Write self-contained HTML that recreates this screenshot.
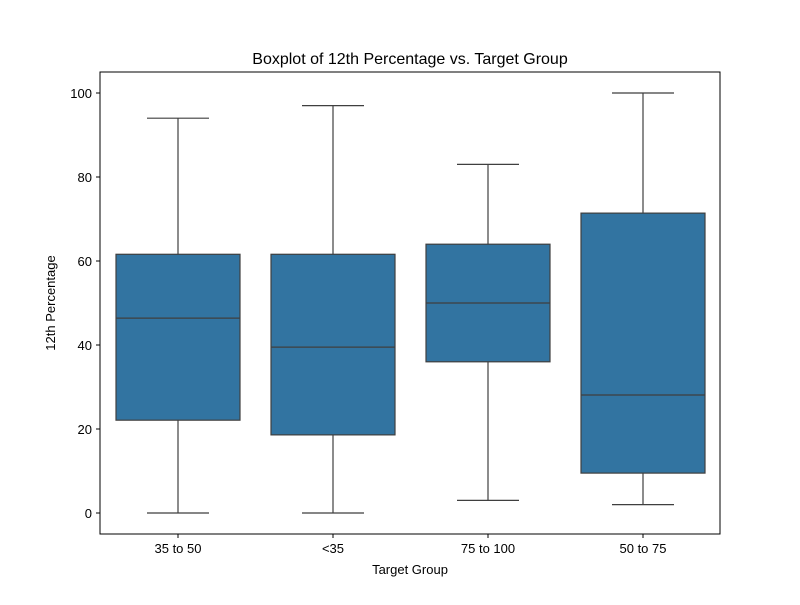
<!DOCTYPE html>
<html><head><meta charset="utf-8"><style>body{margin:0;background:#fff}svg{font-family:"Liberation Sans","DejaVu Sans",sans-serif}</style></head>
<body>
<svg id="chart" width="800" height="600">
<rect x="0" y="0" width="800" height="600" fill="#fff"/>
<text x="410" y="64" text-anchor="middle" font-size="16">Boxplot of 12th Percentage vs. Target Group</text>
<g id="yticks"></g><g id="xticks"></g><g id="boxes"></g>
<rect x="100" y="72" width="620" height="462" fill="none" stroke="#000" stroke-width="1"/>
<text x="410" y="574" text-anchor="middle" font-size="13">Target Group</text>
<text transform="translate(55,303) rotate(-90)" text-anchor="middle" font-size="13">12th Percentage</text>
</svg>
<script>
const categories=["35 to 50","<35","75 to 100","50 to 75"];
const mins=[0,0,3,2];
const q1s=[22.1,18.6,36,9.5];
const medians=[46.4,39.5,50,28.1];
const q3s=[61.6,61.6,64,71.4];
const maxs=[94,97,83,100];
const yTicks=[0,20,40,60,80,100];
const ns="http://www.w3.org/2000/svg";
const y=v=>513-v*4.2;
const x=i=>178+i*155;
const bw=124;
function mk(t,a,p){const e=document.createElementNS(ns,t);for(const k in a)e.setAttribute(k,a[k]);p.appendChild(e);return e;}
const yt=document.getElementById('yticks');
yTicks.forEach(v=>{
 const l=mk('line',{x1:96,x2:100,y1:y(v),y2:y(v),stroke:'#000'},yt);
 
 
 const t=mk('text',{x:92,y:y(v)+5,'text-anchor':'end','font-size':13},yt);t.textContent=v;
 
 
});
const xt=document.getElementById('xticks');
categories.forEach((c,i)=>{
 const l=mk('line',{x1:x(i),x2:x(i),y1:534,y2:538,stroke:'#000'},xt);
 
 
 const t=mk('text',{x:x(i),y:553,'text-anchor':'middle','font-size':13},xt);t.textContent=c;
 
 
});
const bg=document.getElementById('boxes');
categories.forEach((c,i)=>{
 const g=mk('g',{},bg);
 
 
 const s={stroke:'#3f3f3f','stroke-width':1.2};
 mk('line',Object.assign({x1:x(i),x2:x(i),y1:y(q3s[i]),y2:y(maxs[i])},s),g);
 mk('line',Object.assign({x1:x(i),x2:x(i),y1:y(q1s[i]),y2:y(mins[i])},s),g);
 mk('line',Object.assign({x1:x(i)-31,x2:x(i)+31,y1:y(maxs[i]),y2:y(maxs[i])},s),g);
 mk('line',Object.assign({x1:x(i)-31,x2:x(i)+31,y1:y(mins[i]),y2:y(mins[i])},s),g);
 mk('rect',Object.assign({x:x(i)-bw/2,y:y(q3s[i]),width:bw,height:y(q1s[i])-y(q3s[i]),fill:'#3274a1'},s),g);
 mk('line',Object.assign({x1:x(i)-bw/2,x2:x(i)+bw/2,y1:y(medians[i]),y2:y(medians[i])},s),g);
});
</script>
</body></html>
